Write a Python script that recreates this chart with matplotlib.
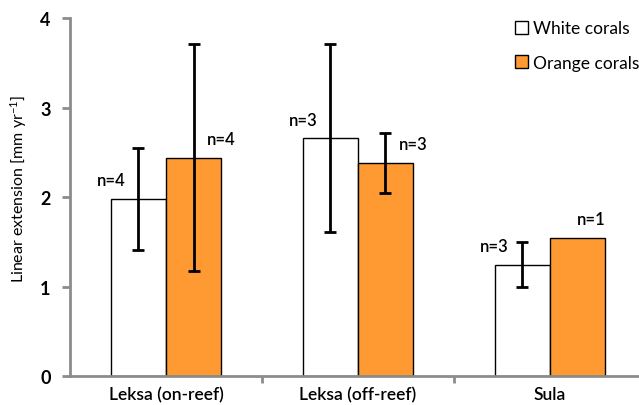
import matplotlib
matplotlib.use("Agg")
import matplotlib.pyplot as plt
import numpy as np

categories = ["Leksa (on-reef)", "Leksa (off-reef)", "Sula"]
white_vals = [1.98, 2.655, 1.245]
white_err = [0.57, 1.05, 0.25]
orange_vals = [2.44, 2.38, 1.54]
orange_err = [1.27, 0.33, 0.0]
white_n = ["n=4", "n=3", "n=3"]
orange_n = ["n=4", "n=3", "n=1"]
yticks = [0, 1, 2, 3, 4]

plt.rcParams['font.family'] = ['Lato', 'DejaVu Sans']
plt.rcParams['mathtext.default'] = 'regular'

fig = plt.figure(figsize=(6.39, 4.06), dpi=100)
ax = fig.add_axes([0.1096, 0.0714, 0.8904, 0.8818])

x = np.arange(len(categories))
w = 0.287
grey = '#8c8c8c'
orange = '#FF9A33'

ax.bar(x - w/2, white_vals, w, color='white', edgecolor='black', linewidth=1.0,
       label='White corals', zorder=2)
ax.bar(x + w/2, orange_vals, w, color=orange, edgecolor='black', linewidth=1.0,
       label='Orange corals', zorder=2)

for i in range(len(categories)):
    ax.errorbar(x[i] - w/2, white_vals[i], yerr=white_err[i], fmt='none',
                ecolor='black', elinewidth=2, capsize=4, capthick=2, zorder=3)
    if orange_err[i] > 0:
        ax.errorbar(x[i] + w/2, orange_vals[i], yerr=orange_err[i], fmt='none',
                    ecolor='black', elinewidth=2, capsize=4, capthick=2, zorder=3)
    ax.text(x[i] - w, white_vals[i] + 0.21, white_n[i], ha='center', va='center',
            fontsize=12, fontweight='semibold')
    xo = x[i] + w if orange_err[i] > 0 else x[i] + w * 0.75
    ax.text(xo, orange_vals[i] + 0.21, orange_n[i], ha='center', va='center',
            fontsize=12, fontweight='semibold')

ax.set_xlim(-0.5, 2.465)
ax.set_ylim(0, 4)
ax.set_yticks(yticks)
ax.set_yticklabels([str(t) for t in yticks], fontsize=13, fontweight='bold')
ax.set_xticks(x)
ax.set_xticklabels(categories, fontsize=12.5, fontweight='semibold')
ax.tick_params(axis='x', which='major', length=0, pad=7)
ax.set_xticks([0.5, 1.5], minor=True)
ax.tick_params(axis='x', which='minor', length=5, width=2, color=grey, direction='out')
ax.tick_params(axis='y', length=6, width=2, color=grey, direction='out', pad=8)

for s in ['top', 'right']:
    ax.spines[s].set_visible(False)
for s in ['left', 'bottom']:
    ax.spines[s].set_color(grey)
    ax.spines[s].set_linewidth(2)

ax.set_ylabel('Linear extension [mm yr$^{-1}$]', fontsize=11.5)
ax.yaxis.set_label_coords(-0.072, 0.525)

leg = ax.legend(loc='upper right', bbox_to_anchor=(1.028, 1.037), frameon=False,
                fontsize=12.5, handlelength=0.75, handleheight=0.75, handletextpad=0.3,
                labelspacing=1.05)

fig.savefig('out.png', dpi=100)
